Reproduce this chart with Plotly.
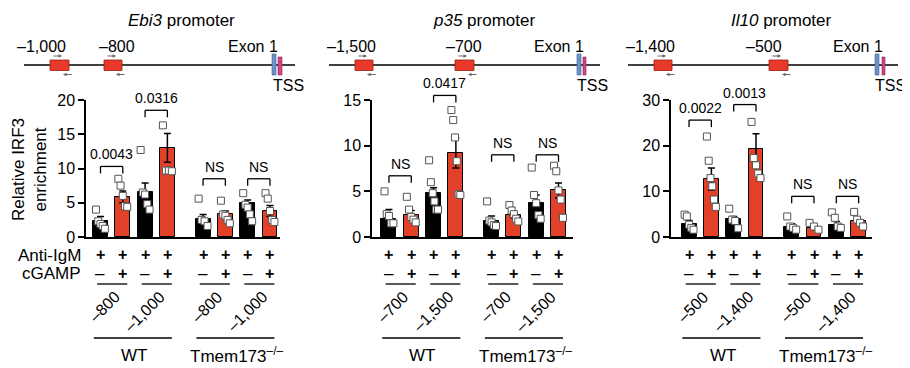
import plotly.graph_objects as go

W, H = 910, 368
FONT = "Liberation Sans, Arial, Helvetica, sans-serif"
RED = "#e3402a"

# ---------------- data ----------------
anti_igm = ["+", "+", "+", "+", "+", "+", "+", "+"]
cgamp = ["–", "+", "–", "+", "–", "+", "–", "+"]
genotypes = ["WT", "Tmem173<sup>–/–</sup>"]
bar_colors = ["black", RED, "black", RED, "black", RED, "black", RED]

ebi3_sites = ["–800", "–1,000"]
ebi3_mean = [2.3, 5.85, 6.5, 13.0, 2.65, 3.3, 4.9, 3.8]
ebi3_sem = [0.7, 0.85, 1.4, 2.1, 0.65, 0.5, 0.5, 0.8]
ebi3_points = [
    [4.0, 2.3, 1.9, 1.6, 1.2],
    [8.5, 7.5, 6.0, 4.5, 4.4],
    [12.7, 6.5, 6.2, 4.8, 4.0],
    [16.3, 9.7, 9.7, 9.6],
    [5.6, 2.5, 2.3, 1.6],
    [5.3, 3.3, 3.1, 2.5, 2.0],
    [6.4, 4.7, 4.3, 3.3, 2.3],
    [6.4, 5.6, 3.8, 2.5, 2.2],
]
ebi3_pvals = ["0.0043", "0.0316", "NS", "NS"]
ebi3_brk = [10.3, 18.5, 8.5, 8.5]

p35_sites = ["–700", "–1,500"]
p35_mean = [2.0, 2.45, 4.8, 9.2, 1.8, 2.4, 3.7, 5.1]
p35_sem = [1.0, 0.45, 0.6, 1.65, 0.5, 0.3, 0.9, 0.8]
p35_points = [
    [5.0, 2.5, 2.3, 1.5, 1.5],
    [4.4, 3.0, 2.2, 1.9, 1.6],
    [8.4, 6.0, 4.8, 3.9, 3.0, 3.0],
    [13.9, 12.8, 10.9, 8.3, 4.7, 4.6],
    [3.9, 1.8, 1.6, 1.3, 1.2],
    [3.5, 2.9, 2.5, 2.0, 1.7],
    [7.6, 4.6, 3.7, 2.4, 2.0],
    [7.8, 7.2, 5.1, 4.1, 2.1],
]
p35_pvals = ["NS", "0.0417", "NS", "NS"]
p35_brk = [6.7, 15.5, 9.0, 9.0]

il10_sites = ["–500", "–1,400"]
il10_mean = [2.9, 12.7, 4.0, 19.2, 2.3, 2.0, 2.7, 3.4]
il10_sem = [0.7, 2.4, 0.5, 3.4, 0.6, 0.3, 0.7, 0.4]
il10_points = [
    [4.9, 4.5, 2.7, 2.0, 1.6],
    [22.0, 16.7, 12.9, 11.1, 8.2, 6.6],
    [6.2, 3.8, 3.5, 1.9],
    [25.2, 17.3, 15.7, 13.9, 12.9],
    [4.5, 2.3, 2.0, 1.6],
    [3.1, 2.3, 1.6],
    [5.4, 4.2, 2.3, 2.0],
    [5.5, 3.8, 3.1, 2.3],
]
il10_pvals = ["0.0022", "0.0013", "NS", "NS"]
il10_brk = [25.6, 29.0, 8.9, 8.9]

# promoter diagram labels
promoter_titles = ["<i>Ebi3</i> promoter", "<i>p35</i> promoter", "<i>Il10</i> promoter"]
promoter_sites = [["–1,000", "–800"], ["–1,500", "–700"], ["–1,400", "–500"]]

# ---------------- layout helpers ----------------
OFF = 8  # page offset of the figure inside the browser window


def P(x):
    return (x - OFF) / W


def Q(y):
    return 1 - (y - OFF) / H


pos = [0, 1, 2, 3, 4.6, 5.6, 6.6, 7.6]
Y_TOP, Y_BOT = 100, 237

panels = [
    dict(mean=ebi3_mean, sem=ebi3_sem, pts=ebi3_points, pv=ebi3_pvals, brk=ebi3_brk,
         sites=ebi3_sites, ymax=20, dtick=5, dom=(86, 280), rng=(-0.65, 8.05)),
    dict(mean=p35_mean, sem=p35_sem, pts=p35_points, pv=p35_pvals, brk=p35_brk,
         sites=p35_sites, ymax=15, dtick=5, dom=(372, 573), rng=(-0.76, 8.25)),
    dict(mean=il10_mean, sem=il10_sem, pts=il10_points, pv=il10_pvals, brk=il10_brk,
         sites=il10_sites, ymax=30, dtick=10, dom=(671, 872), rng=(-0.81, 8.2)),
]

diagrams = [
    dict(line=(24, 295), boxes=[(50, 69), (104, 122)], exon=(272, 276), tss=(278, 282),
         site_x=[41, 117], exon_x=253, tss_x=288, title_x=181),
    dict(line=(329, 600), boxes=[(355, 373), (455, 474)], exon=(577, 581), tss=(583, 586),
         site_x=[351, 464], exon_x=559, tss_x=592, title_x=484),
    dict(line=(628, 898), boxes=[(654, 672), (769, 788)], exon=(875, 879), tss=(882, 885),
         site_x=[650, 764], exon_x=858, tss_x=890, title_x=781),
]

fig = go.Figure()
shapes = []
annotations = []
layout_axes = {}


def txt(text, x, y, size=15, xref="paper", yref="paper", **kw):
    d = dict(text=text, x=x, y=y, xref=xref, yref=yref, showarrow=False,
             xanchor="center", yanchor="middle",
             font=dict(family=FONT, size=size, color="black"))
    d.update(kw)
    annotations.append(d)


for k, pn in enumerate(panels):
    sfx = "" if k == 0 else str(k + 1)
    xa, ya = "x" + sfx, "y" + sfx
    plot_h = Y_BOT - Y_TOP
    y0p, y1p = Q(Y_BOT), Q(Y_TOP)

    def ypaper(v, ymax=pn["ymax"], y0p=y0p, y1p=y1p):
        return y0p + v / ymax * (y1p - y0p)

    layout_axes["xaxis" + sfx] = dict(
        domain=[P(pn["dom"][0]), P(pn["dom"][1])], range=list(pn["rng"]), anchor=ya,
        showline=True, linecolor="black", linewidth=1.5, showticklabels=False,
        ticks="", showgrid=False, zeroline=False, fixedrange=True, automargin=False)
    layout_axes["yaxis" + sfx] = dict(
        domain=[y0p, y1p], range=[0, pn["ymax"]], anchor=xa,
        tickmode="linear", tick0=0, dtick=pn["dtick"], automargin=False,
        showline=True, linecolor="black", linewidth=1.5, ticks="outside",
        ticklen=6, tickwidth=1.5, tickcolor="black", showgrid=False, zeroline=False,
        tickfont=dict(family=FONT, size=16, color="black"))

    fig.add_trace(go.Bar(
        x=pos, y=pn["mean"], width=0.67, xaxis=xa, yaxis=ya,
        marker=dict(color=bar_colors, line=dict(color="black", width=1)),
        error_y=dict(type="data", array=pn["sem"], color="black", thickness=1.5, width=3.5)))

    for i, vals in enumerate(pn["pts"]):
        n = len(vals)
        offs = [(-0.2 + 0.4 * j / (n - 1)) if n > 1 else 0 for j in range(n)]
        fig.add_trace(go.Scatter(
            x=[pos[i] + o for o in offs], y=vals, mode="markers", xaxis=xa, yaxis=ya,
            cliponaxis=False,
            marker=dict(symbol="square", size=7, color="white",
                        line=dict(color="#555555", width=1))))

    # significance brackets (drawn at data heights, mapped to the page so they are not clipped)
    leg = 7 * pn["ymax"] / plot_h
    for j in range(4):
        a, b = pos[2 * j], pos[2 * j + 1]
        h = pn["brk"][j]
        line = dict(color="black", width=1.3)
        shapes.append(dict(type="line", xref=xa, yref="paper", x0=a, x1=b,
                           y0=ypaper(h), y1=ypaper(h), line=line))
        for xx in (a, b):
            shapes.append(dict(type="line", xref=xa, yref="paper", x0=xx, x1=xx,
                               y0=ypaper(h - leg), y1=ypaper(h), line=line))
        txt(pn["pv"][j], (a + b) / 2, ypaper(h), size=14, xref=xa,
            yanchor="bottom", yshift=2)

    # treatment rows
    for i, p in enumerate(pos):
        txt("<b>%s</b>" % anti_igm[i], p, Q(254), size=16, xref=xa)
        txt("<b>%s</b>" % cgamp[i] if cgamp[i] == "+" else cgamp[i], p, Q(273),
            size=16 if cgamp[i] == "+" else 17, xref=xa)

    # pair lines and rotated site labels
    for j in range(4):
        a, b = pos[2 * j], pos[2 * j + 1]
        shapes.append(dict(type="line", xref=xa, yref="paper", x0=a - 0.15, x1=b + 0.2,
                           y0=Q(284), y1=Q(284), line=dict(color="black", width=1.3)))
        label = pn["sites"][j % 2]
        w = sum(4.5 if c == "," else 9.0 for c in label)
        d = w * 0.354
        txt(label, (a + b) / 2, Q(294 + d), size=16, xref=xa, textangle=-45,
            xshift=6 - d)

    # genotype lines
    for g in range(2):
        a, b = pos[4 * g], pos[4 * g + 3]
        shapes.append(dict(type="line", xref=xa, yref="paper", x0=a - 0.3, x1=b + 0.2,
                           y0=Q(338), y1=Q(338), line=dict(color="black", width=1.3)))
        txt(genotypes[g], (a + b) / 2, Q(355), size=17, xref=xa)

# row labels and y title
txt("Anti-IgM", P(83), Q(255), size=17, xanchor="right")
txt("cGAMP", P(83), Q(273), size=17, xanchor="right")
txt("Relative IRF3<br>enrichment", P(29), Q(170), size=17, textangle=-90)

# promoter diagrams
for k, dg in enumerate(diagrams):
    x0, x1 = dg["line"]
    shapes.append(dict(type="line", xref="paper", yref="paper", x0=P(x0), x1=P(x1),
                       y0=Q(65), y1=Q(65), line=dict(color="black", width=1.3)))
    for (bx0, bx1) in dg["boxes"]:
        shapes.append(dict(type="rect", xref="paper", yref="paper", x0=P(bx0), x1=P(bx1),
                           y0=Q(70.5), y1=Q(60), fillcolor="#e8392a",
                           line=dict(color="#9a1e10", width=0.8)))
        annotations.append(dict(x=P(bx0 + 12), y=Q(56), xref="paper", yref="paper", text="",
                                showarrow=True, ax=-10, ay=0, arrowhead=2, arrowsize=0.7,
                                arrowwidth=1, arrowcolor="#666666"))
        annotations.append(dict(x=P(bx1 - 6), y=Q(74.5), xref="paper", yref="paper", text="",
                                showarrow=True, ax=10, ay=0, arrowhead=2, arrowsize=0.7,
                                arrowwidth=1, arrowcolor="#666666"))
    shapes.append(dict(type="rect", xref="paper", yref="paper", x0=P(dg["exon"][0]),
                       x1=P(dg["exon"][1]), y0=Q(75), y1=Q(54), fillcolor="#6b93c9",
                       line=dict(color="#3d5f8f", width=0.6)))
    shapes.append(dict(type="rect", xref="paper", yref="paper", x0=P(dg["tss"][0]),
                       x1=P(dg["tss"][1]), y0=Q(75), y1=Q(57), fillcolor="#d2457f",
                       line=dict(color="#8f2050", width=0.6)))
    for s, sx in zip(promoter_sites[k], dg["site_x"]):
        txt(s, P(sx), Q(47), size=16)
    txt("Exon 1", P(dg["exon_x"]), Q(47), size=16)
    txt("TSS", P(dg["tss_x"]), Q(86), size=16)
    txt(promoter_titles[k], P(dg["title_x"]), Q(20), size=17)

fig.update_layout(
    width=W, height=H, margin=dict(l=0, r=0, t=0, b=0, pad=0, autoexpand=False),
    paper_bgcolor="white", plot_bgcolor="white", showlegend=False,
    bargap=0, shapes=shapes, annotations=annotations,
    font=dict(family=FONT, color="black"), **layout_axes)

fig.write_html("out.html")
